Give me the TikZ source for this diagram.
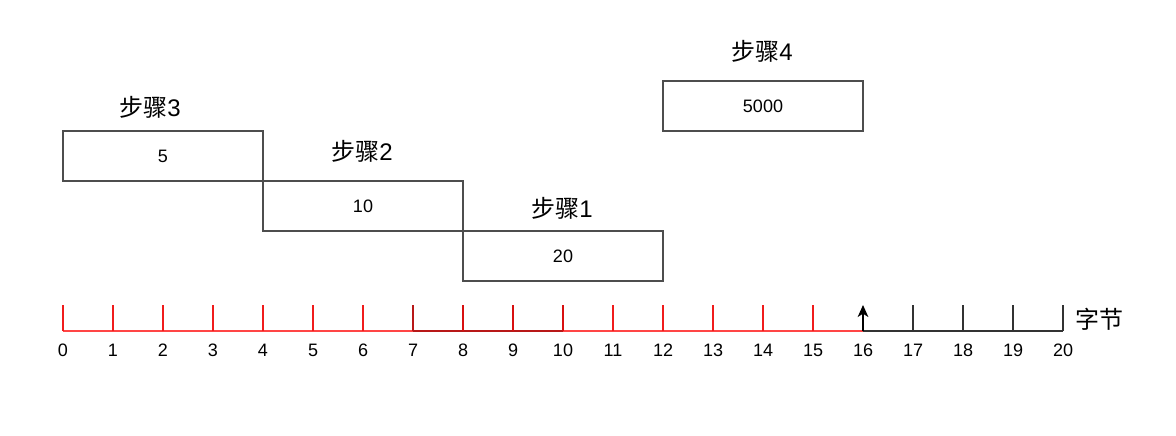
\documentclass[tikz,border=0pt]{standalone}
\usepackage{fontspec}
\setmainfont{Liberation Sans}
\newfontfamily\cjk{Noto Sans CJK SC}
\usetikzlibrary{arrows.meta}
\definecolor{boxgray}{HTML}{4D4D4D}
\definecolor{rulered}{HTML}{FF4545}
\definecolor{tickred}{HTML}{F01C1C}
\definecolor{darkred}{HTML}{B81818}
\definecolor{tickdark}{HTML}{D81010}
\definecolor{ruleblack}{HTML}{333333}
\begin{document}
\begin{tikzpicture}[x=0.75pt,y=-0.75pt,
  stepbox/.style={draw=boxgray,line width=1.1pt,minimum width=150pt,minimum height=37.5pt,inner sep=0pt,font=\fontsize{13.5}{16}\selectfont},
  steplabel/.style={inner sep=0pt,font=\fontsize{18}{21}\selectfont},
  numlabel/.style={inner sep=0pt,font=\fontsize{13.5}{16}\selectfont},
  redtick/.style={draw=tickred,line width=1.1pt},
  darktick/.style={draw=tickdark,line width=1.1pt},
  blacktick/.style={draw=ruleblack,line width=1.1pt}]
\useasboundingbox (0,0) rectangle (1176,435);
% boxes
\node[stepbox] (b3) at (163,156) {5};
\node[stepbox] (b2) at (363,206) {10};
\node[stepbox] (b1) at (563,256) {20};
\node[stepbox] (b4) at (763,106) {5000};
% labels
\node[steplabel] (l3) at (150,107) {{\cjk 步骤}3};
\node[steplabel] (l2) at (362,151) {{\cjk 步骤}2};
\node[steplabel] (l1) at (562,208) {{\cjk 步骤}1};
\node[steplabel] (l4) at (762,51) {{\cjk 步骤}4};
% ruler coordinates
\foreach \i in {0,...,20}{
  \coordinate (t\i) at (63+50*\i,331);
  \coordinate (u\i) at (63+50*\i,305);
  \node[numlabel] (n\i) at (63+50*\i,350) {\i};
}
% baseline
\draw[rulered,line width=1.1pt] (t0) -- (t7);
\draw[rulered,line width=1.1pt] (t10) -- (t16);
\draw[darkred,line width=1.1pt] (t7) -- (t10);
\draw[ruleblack,line width=1.1pt] (t16) -- (t20);
% ticks
\foreach \i in {0,...,6,11,12,13,14,15}{ \draw[redtick] (t\i) -- (u\i); }
\draw[draw=darkred,line width=1.1pt] (t7) -- (u7);
\foreach \i in {8,9,10}{ \draw[darktick] (t\i) -- (u\i); }
\foreach \i in {17,...,20}{ \draw[blacktick] (t\i) -- (u\i); }
\draw[blacktick,draw=black,-{Stealth[length=9pt,width=8pt,inset=2.5pt]}] (t16) -- (u16);
\node[steplabel] (unit) at (1099,319) {\cjk 字节};
\end{tikzpicture}
\end{document}
